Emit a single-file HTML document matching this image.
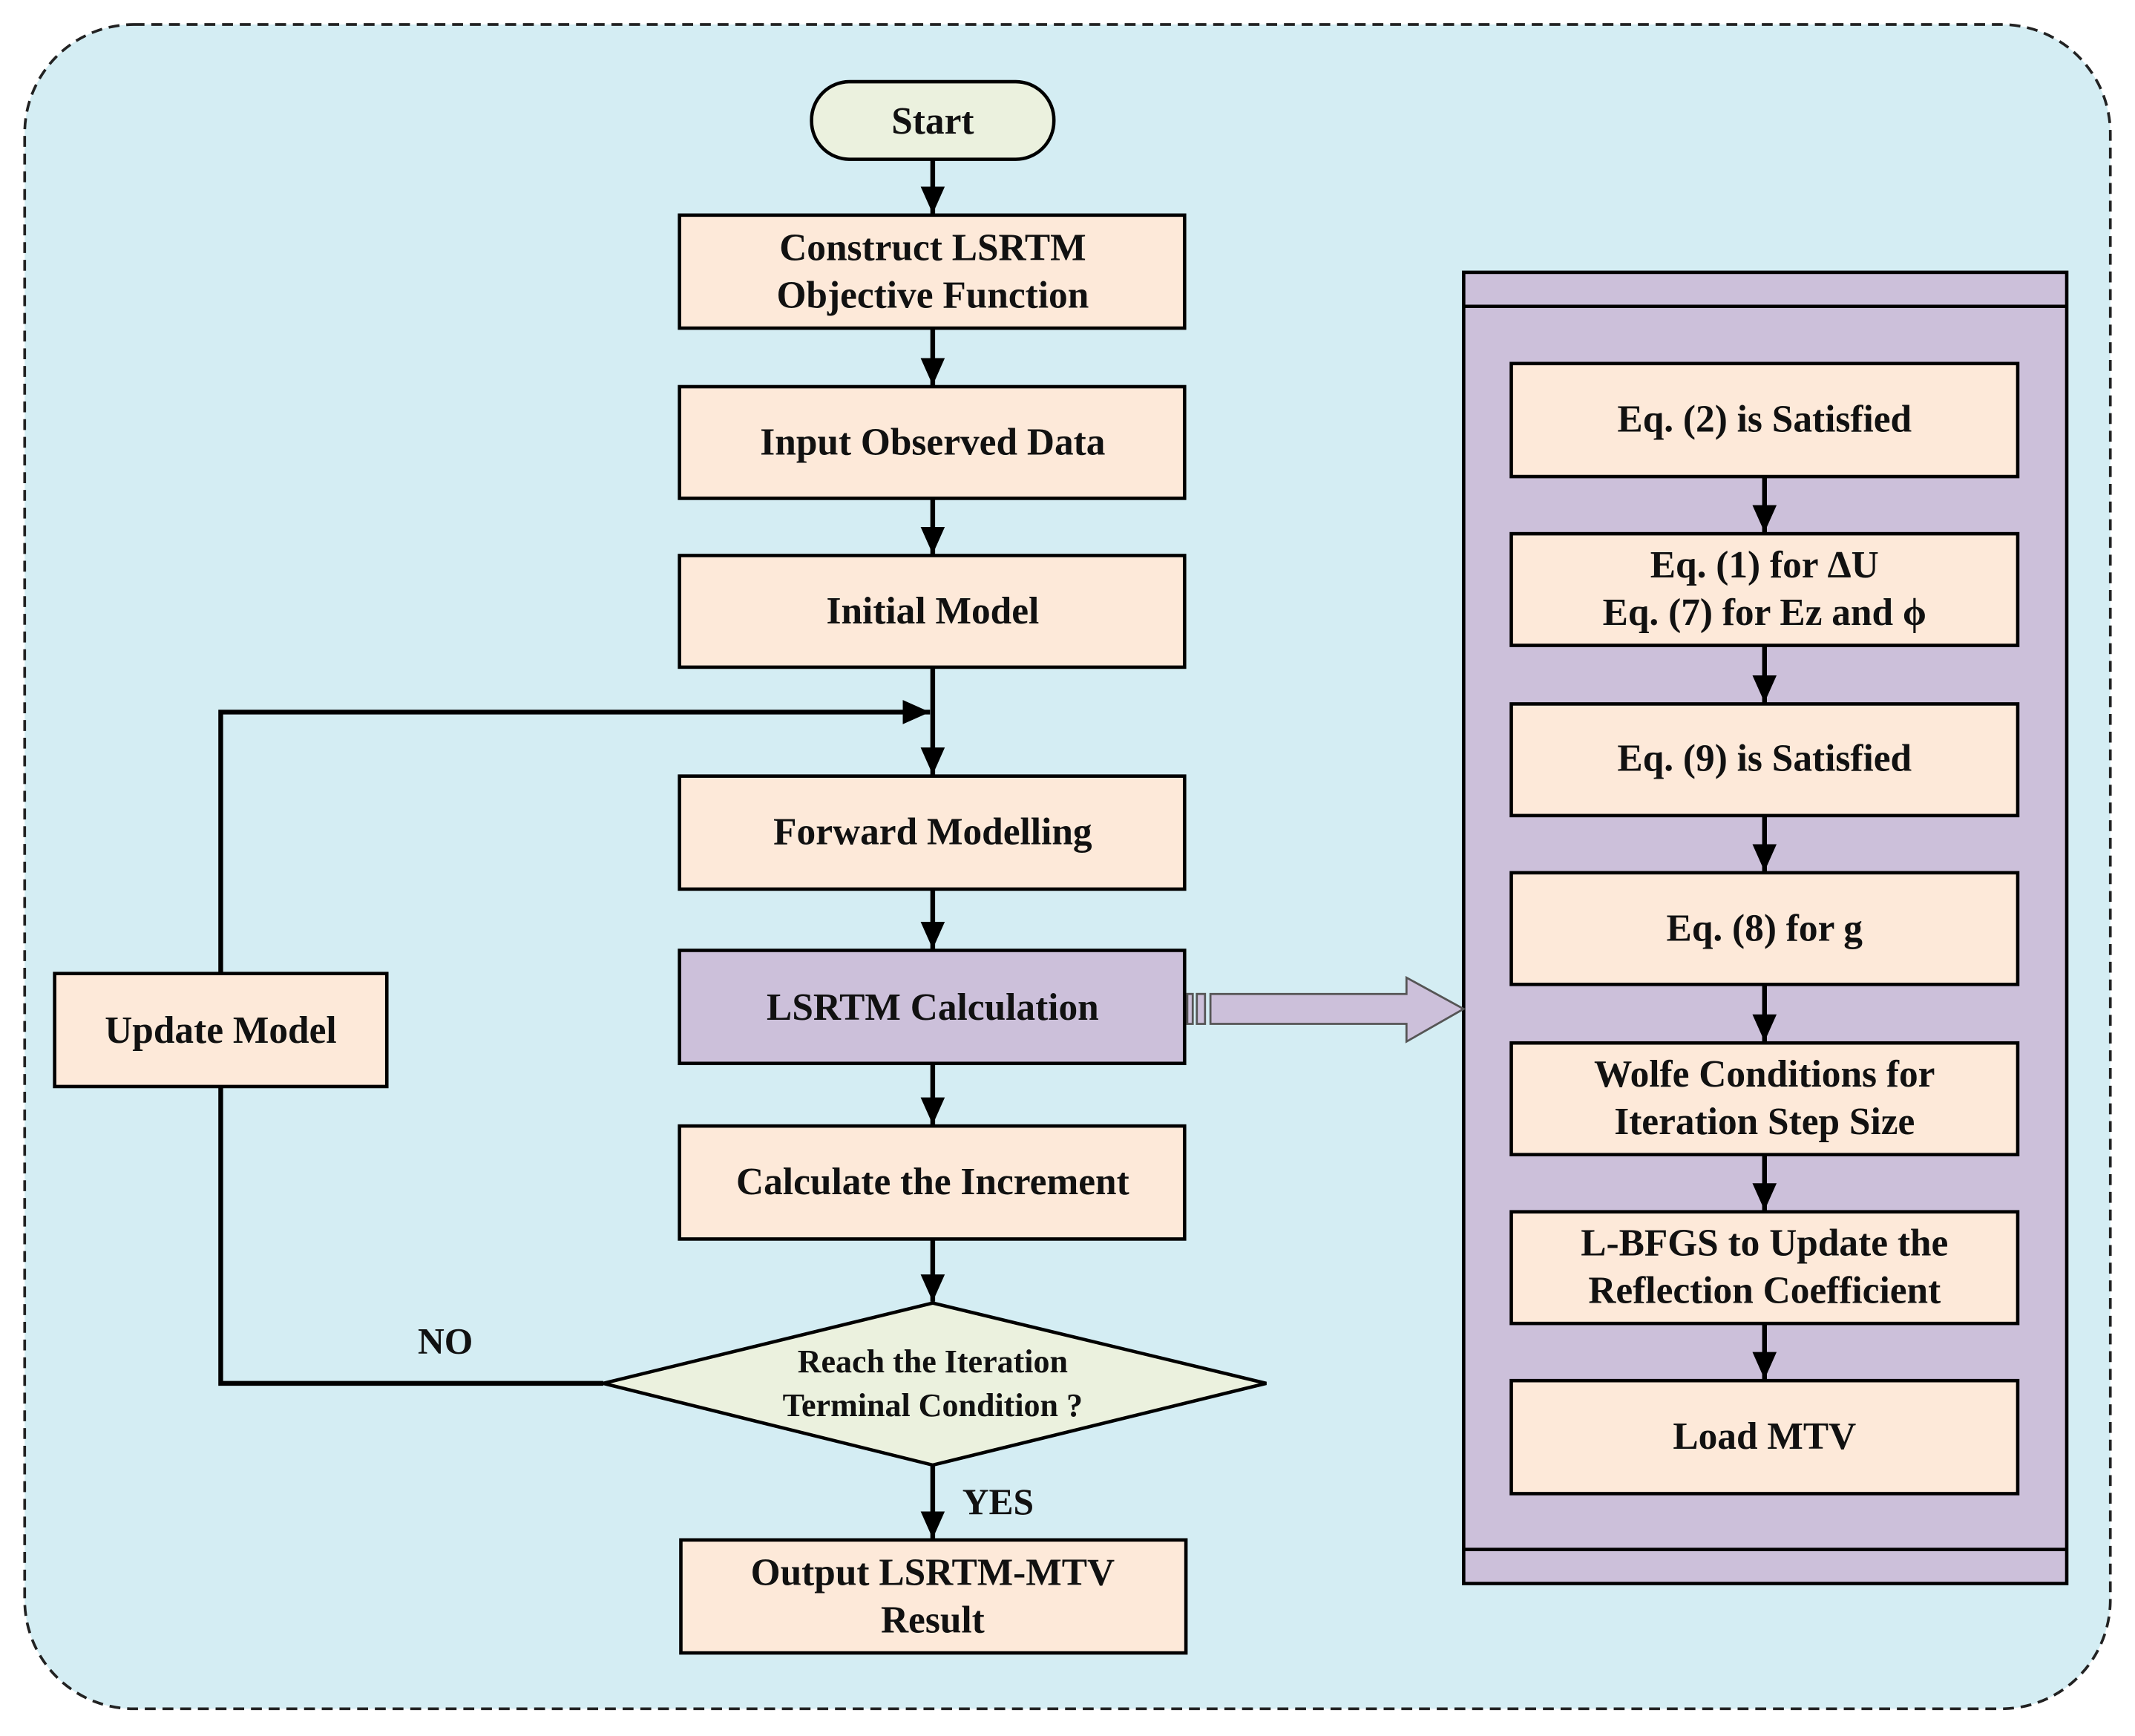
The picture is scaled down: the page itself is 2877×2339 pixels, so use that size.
<!DOCTYPE html>
<html><head><meta charset="utf-8"><style>
html,body{margin:0;padding:0;background:#fff;}
svg{display:block;}
text{font-family:"Liberation Serif",serif;font-weight:bold;fill:#111;}
</style></head><body>
<svg width="2877" height="2339" viewBox="0 0 1568 1275" xmlns="http://www.w3.org/2000/svg">
<defs>
<marker id="a" markerWidth="20" markerHeight="20" refX="18" refY="8" orient="auto" markerUnits="userSpaceOnUse" viewBox="0 0 18 16">
<path d="M0,0 L18,8 L0,16 z" fill="#000"/></marker>
</defs>
<rect x="18" y="18" width="1532" height="1237" rx="80" fill="#d4edf3" stroke="#222" stroke-width="2" stroke-dasharray="8,5"/>
<rect x="596" y="60" width="178" height="57" rx="28" fill="#ebf1de" stroke="#000" stroke-width="2.5"/>
<text x="685" y="98" font-size="28" text-anchor="middle">Start</text>
<g stroke="#000" stroke-width="2.5" fill="#fde9d9">
<rect x="499" y="158" width="371" height="83"/>
<rect x="499" y="284" width="371" height="82"/>
<rect x="499" y="408" width="371" height="82"/>
<rect x="499" y="570" width="371" height="83"/>
<rect x="499" y="698" width="371" height="83" fill="#ccc0da"/>
<rect x="499" y="827" width="371" height="83"/>
<rect x="500" y="1131" width="371" height="83"/>
<rect x="40" y="715" width="244" height="83"/>
<polygon points="443,1016 685,957 930,1016 685,1076" fill="#ebf1de"/>
<rect x="1075" y="200" width="443" height="963" fill="#ccc0da"/>
<line x1="1075" y1="225" x2="1518" y2="225"/>
<line x1="1075" y1="1138" x2="1518" y2="1138"/>
<rect x="1110" y="267" width="372" height="83"/>
<rect x="1110" y="392" width="372" height="82"/>
<rect x="1110" y="517" width="372" height="82"/>
<rect x="1110" y="641" width="372" height="82"/>
<rect x="1110" y="766" width="372" height="82"/>
<rect x="1110" y="890" width="372" height="82"/>
<rect x="1110" y="1014" width="372" height="83"/>
</g>
<g stroke="#000" stroke-width="3.5" fill="none">
<path d="M685,117 V157" marker-end="url(#a)"/>
<path d="M685,241 V283" marker-end="url(#a)"/>
<path d="M685,366 V407" marker-end="url(#a)"/>
<path d="M685,490 V569" marker-end="url(#a)"/>
<path d="M685,653 V697" marker-end="url(#a)"/>
<path d="M685,781 V826" marker-end="url(#a)"/>
<path d="M685,910 V956" marker-end="url(#a)"/>
<path d="M685,1076 V1130" marker-end="url(#a)"/>
<path d="M162,715 V523 H683" marker-end="url(#a)"/>
<path d="M162,798 V1016 H443"/>
<path d="M1296,350 V391" marker-end="url(#a)"/>
<path d="M1296,474 V516" marker-end="url(#a)"/>
<path d="M1296,599 V640" marker-end="url(#a)"/>
<path d="M1296,723 V765" marker-end="url(#a)"/>
<path d="M1296,848 V889" marker-end="url(#a)"/>
<path d="M1296,972 V1013" marker-end="url(#a)"/>
</g>
<g stroke="#555" stroke-width="1.5" fill="#ccc0da">
<rect x="872" y="730" width="4" height="22"/>
<rect x="879" y="730" width="6" height="22"/>
<path d="M889,730 H1033 V718 L1075,741 L1033,765 V752 H889 z"/>
</g>
<g font-size="28" text-anchor="middle">
<text x="685" y="191">Construct LSRTM</text>
<text x="685" y="226">Objective Function</text>
<text x="685" y="334">Input Observed Data</text>
<text x="685" y="458">Initial Model</text>
<text x="685" y="620">Forward Modelling</text>
<text x="685" y="749">LSRTM Calculation</text>
<text x="685" y="877">Calculate the Increment</text>
<text x="685" y="1164">Output LSRTM-MTV</text>
<text x="685" y="1199">Result</text>
<text x="162" y="766">Update Model</text>
<text x="1296" y="317">Eq. (2) is Satisfied</text>
<text x="1296" y="424">Eq. (1) for ΔU</text>
<text x="1296" y="459">Eq. (7) for Ez and ϕ</text>
<text x="1296" y="566">Eq. (9) is Satisfied</text>
<text x="1296" y="691">Eq. (8) for g</text>
<text x="1296" y="798">Wolfe Conditions for</text>
<text x="1296" y="833">Iteration Step Size</text>
<text x="1296" y="922">L-BFGS to Update the</text>
<text x="1296" y="957">Reflection Coefficient</text>
<text x="1296" y="1064">Load MTV</text>
</g>
<g font-size="24" text-anchor="middle">
<text x="685" y="1008">Reach the Iteration</text>
<text x="685" y="1040">Terminal Condition ?</text>
</g>
<text x="327" y="994" font-size="27" text-anchor="middle" font-weight="normal">NO</text>
<text x="733" y="1112" font-size="27" text-anchor="middle" font-weight="normal">YES</text>
</svg>
</body></html>
